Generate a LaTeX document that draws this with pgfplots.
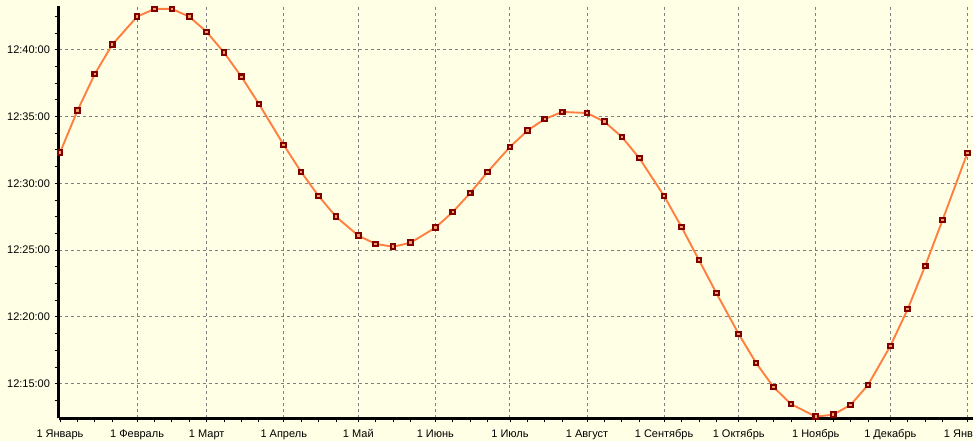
\documentclass[border=0pt]{standalone}
\usepackage{fontspec}
\setmainfont{Liberation Sans}
\usepackage{pgfplots}
\pgfplotsset{compat=1.18}
\definecolor{bgc}{HTML}{FFFFE6}
\definecolor{lineor}{HTML}{FF7F40}
\definecolor{mkred}{HTML}{800000}
\definecolor{mkfill}{HTML}{F0A060}
\definecolor{gridc}{HTML}{808080}
\begin{document}
\begin{tikzpicture}[x=1bp,y=1bp]
\fill[bgc] (0,0) rectangle (973,441);
\begin{axis}[
  at={(58.5bp,22.5bp)}, anchor=south west,
  scale only axis, width=916.5bp, height=412.5bp,
  xmin=-0.603, xmax=368.06, ymin=12.395, ymax=43.27,
  axis x line=bottom, axis y line=left,
  axis line style={black, line width=2.2bp, -},
  xtick={0,31,59,90,120,151,181,212,243,273,304,334,365},
  xticklabels={1 Январь,1 Февраль,1 Март,1 Апрель,1 Май,1 Июнь,1 Июль,1 Август,1 Сентябрь,1 Октябрь,1 Ноябрь,1 Декабрь,1 Январь},
  minor xtick={7,14,21,38,45,52,66,73,80,97,104,111,127,134,141,158,165,172,188,195,202,219,226,233,250,257,264,280,287,294,311,318,325,341,348,355},
  ytick={15,20,25,30,35,40},
  yticklabels={12:15:00,12:20:00,12:25:00,12:30:00,12:35:00,12:40:00},
  minor ytick={13.75,16.25,17.5,18.75,21.25,22.5,23.75,26.25,27.5,28.75,31.25,32.5,33.75,36.25,37.5,38.75,41.25,42.5},
  tick align=outside,
  major tick length=4bp, minor tick length=4bp,
  tick style={black, line width=0.8bp},
  ticklabel style={font=\fontsize{11bp}{13bp}\selectfont, text=black},
  xticklabel style={anchor=north, text height=8bp, text depth=2.5bp, yshift=-3bp},
  yticklabel style={xshift=-1bp},
  xmajorgrids, ymajorgrids,
  major grid style={gridc, line width=1bp, dash pattern=on 3bp off 3bp},
  clip=false,
]
\addplot[color=lineor, line width=1.9bp, mark=square*, mark size=2.3bp,
  mark options={draw=mkred, fill=mkfill, line width=2.1bp, solid}] coordinates {
(0,32.29) (7,35.43) (14,38.18) (21,40.37)
(31,42.47) (38,43.05) (45,43.05) (52,42.47)
(59,41.33) (66,39.78) (73,37.97) (80,35.94)
(90,32.87) (97,30.85) (104,29.05) (111,27.50)
(120,26.08) (127,25.46) (134,25.25) (141,25.55)
(151,26.68) (158,27.85) (165,29.27) (172,30.85)
(181,32.72) (188,33.94) (195,34.81) (202,35.34)
(212,35.26) (219,34.61) (226,33.47) (233,31.89)
(243,29.05) (250,26.73) (257,24.26) (264,21.79)
(273,18.72) (280,16.55) (287,14.75) (294,13.48)
(304,12.53) (311,12.68) (318,13.41) (325,14.90)
(334,17.82) (341,20.59) (348,23.81) (355,27.25)
(365,32.27)
};
\end{axis}
\pgfresetboundingbox
\useasboundingbox (0,0) rectangle (973,441);
\end{tikzpicture}
\end{document}
